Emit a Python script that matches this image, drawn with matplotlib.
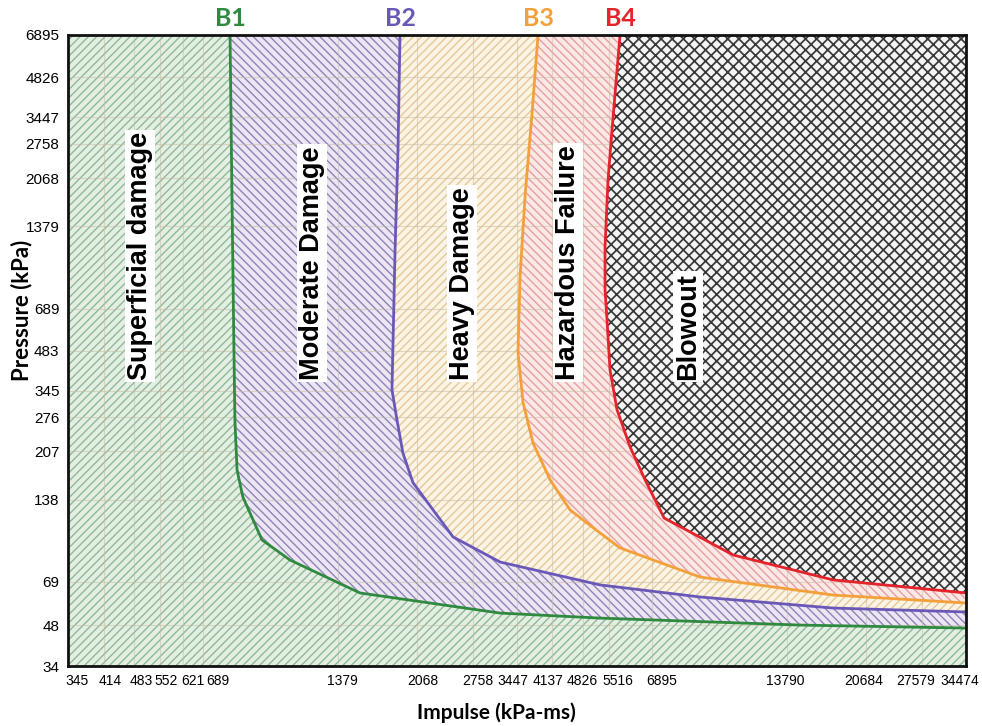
import numpy as np
import matplotlib
matplotlib.use('Agg')
import matplotlib.pyplot as plt
import matplotlib.transforms as mtransforms
from matplotlib.ticker import FixedLocator, FixedFormatter, NullLocator, NullFormatter

# eixos (kPa-ms / kPa)
x_ticks = [345, 414, 483, 552, 621, 689, 1379, 2068, 2758, 3447, 4137, 4826,
           5516, 6895, 13790, 20684, 27579, 34474]
y_ticks = [34, 48, 69, 138, 207, 276, 345, 483, 689, 1379, 2068, 2758, 3447,
           4826, 6895]
# deslocamento dos rotulos do eixo x em px (no original nao caem certinho no log)
x_label_dx = [9, 7, 8, 7, 10, 15, 4, 6, 4, -4, -4, 0, 9, 10, -2, -3, -7, -6]

b1_imp = [792, 800, 808, 812, 821, 846, 933, 1077, 1542, 3162, 5281, 14730, 34474]
b1_pre = [6895, 1722, 487, 270, 177, 141, 98.3, 83.0, 62.9, 53.1, 50.9, 48.0, 46.8]

b2_imp = [1893, 1874, 1846, 1817, 1864, 1922, 2024, 2485, 3162, 5281, 8819, 17440, 34474]
b2_pre = [6895, 2623, 1130, 348, 270, 204, 159, 100.8, 81.6, 67.3, 60.8, 55.4, 53.6]

b3_imp = [3842, 3726, 3594, 3503, 3467, 3558, 3745, 4087, 4528, 5281, 5850, 8819, 17440, 34474]
b3_pre = [6895, 3583, 1766, 900, 475, 312, 222, 163, 126.5, 104.2, 91.9, 71.9, 61.8, 57.8]

b4_imp = [5850, 5761, 5615, 5501, 5417, 5417, 5472, 5557, 5761, 6159, 6651, 7333, 10445, 17440, 34474]
b4_pre = [6895, 5146, 3105, 2038, 1159, 807, 627, 411, 294, 215, 163, 118.2, 86.6, 70.2, 62.9]

regioes = ['Superficial damage', 'Moderate Damage', 'Heavy Damage',
           'Hazardous Failure', 'Blowout']
nomes_curvas = ['B1', 'B2', 'B3', 'B4']

cores_linha = ['#2f8a3f', '#6a58b8', '#f4a03a', '#e5232b']
cores_fundo = ['#e4efe4', '#ece6f3', '#fbf4e4', '#fbe9e7', '#f4f4f4']
cores_hatch = ['#8fb898', '#8f82b8', '#e3c99a', '#e89e9e', '#383838']
hatches = ['////', '\\\\\\\\', '////', '\\\\\\\\', 'xxx']

xmin, xmax = 345, 34474
ymin, ymax = 34, 6895

fig = plt.figure(figsize=(9.82, 7.26), dpi=100)
ax = fig.add_axes([0.0692, 0.0826, 0.9145, 0.8692])
ax.set_xscale('log')
ax.set_yscale('log')
ax.set_xlim(xmin, xmax)
ax.set_ylim(ymin, ymax)

# ---------- REGIOES ----------
with plt.rc_context({'hatch.linewidth': 1.0}):
    ax.fill_between([xmin, xmax], ymin, ymax, facecolor=cores_fundo[0],
                    edgecolor=cores_hatch[0], hatch=hatches[0], linewidth=0, zorder=1)

curvas = [(b1_imp, b1_pre), (b2_imp, b2_pre), (b3_imp, b3_pre), (b4_imp, b4_pre)]
for i, (imp, pre) in enumerate(curvas):
    lw_h = 1.25 if i == 3 else 1.0
    z = 3 if i == 3 else 1
    with plt.rc_context({'hatch.linewidth': lw_h}):
        ax.fill(list(imp) + [xmax], list(pre) + [ymax], facecolor=cores_fundo[i + 1],
                edgecolor=cores_hatch[i + 1], hatch=hatches[i + 1], linewidth=0, zorder=z)

for i, (imp, pre) in enumerate(curvas):
    ax.plot(imp, pre, color=cores_linha[i], lw=2, zorder=4, solid_joinstyle='round')
    ax.text(imp[0], 1.008, nomes_curvas[i], transform=ax.get_xaxis_transform(),
            ha='center', va='bottom', color=cores_linha[i], fontsize=18,
            fontweight='bold', family=['Lato', 'DejaVu Sans'])

# textos das regioes
pos_x = [499, 1206, 2601, 4481, 8292]
for nome, px in zip(regioes, pos_x):
    ax.text(px, 378, nome, rotation=90, ha='center', va='bottom', fontsize=19.5,
            fontweight='bold', family=['Liberation Sans', 'DejaVu Sans'], zorder=6,
            bbox=dict(facecolor='white', edgecolor='none', pad=1.5))

# ---------- EIXOS ----------
ax.xaxis.set_major_locator(FixedLocator(x_ticks))
ax.xaxis.set_major_formatter(FixedFormatter([str(v) for v in x_ticks]))
ax.yaxis.set_major_locator(FixedLocator(y_ticks))
ax.yaxis.set_major_formatter(FixedFormatter([str(v) for v in y_ticks]))
for eixo in (ax.xaxis, ax.yaxis):
    eixo.set_minor_locator(NullLocator())
    eixo.set_minor_formatter(NullFormatter())
ax.tick_params(length=0, pad=6)
fonte_ticks = ['Liberation Sans Narrow', 'Liberation Sans', 'DejaVu Sans']
for lbl in ax.get_yticklabels():
    lbl.set_family(fonte_ticks)
    lbl.set_fontsize(11)
for lbl, dx in zip(ax.get_xticklabels(), x_label_dx):
    lbl.set_family(fonte_ticks)
    lbl.set_fontsize(10)
    lbl.set_transform(lbl.get_transform() +
                      mtransforms.ScaledTranslation(dx / 100, 0, fig.dpi_scale_trans))

ax.set_axisbelow(False)
ax.grid(True, color='#c9bea6', lw=0.8, alpha=0.55)

for s in ax.spines.values():
    s.set_linewidth(2)
    s.set_color('#111111')
    s.set_zorder(7)

ax.set_xlabel('Impulse (kPa-ms)', fontsize=15, fontweight='bold',
              family=['Lato', 'DejaVu Sans'])
ax.set_ylabel('Pressure (kPa)', fontsize=16, fontweight='bold',
              family=['Lato', 'DejaVu Sans'])
ax.xaxis.set_label_coords(0.477, -0.058)
ax.yaxis.set_label_coords(-0.040, 0.564)

fig.savefig('out.png', dpi=100)
